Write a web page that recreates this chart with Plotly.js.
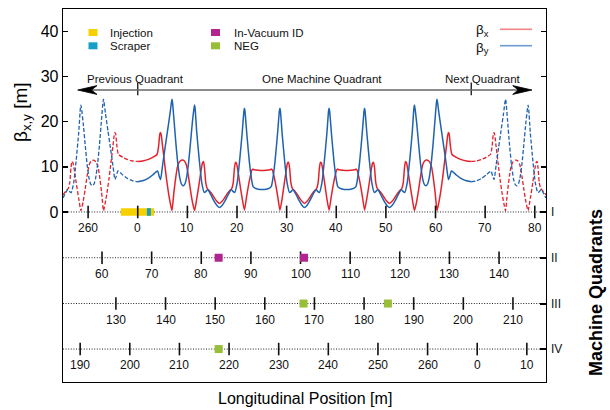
<!DOCTYPE html>
<html><head><meta charset="utf-8">
<script src="https://cdn.plot.ly/plotly-3.0.1.min.js"></script>
<style>html,body{margin:0;padding:0;background:#fff}#chart{width:610px;height:410px}</style>
</head><body><div id="chart"></div>
<script>
// ---- beta functions, one machine quadrant (solid) ----
const sxSolid = [0,1,2,3,3.9,4.2,4.45,4.6,4.75,5,5.5,5.8,6.2,6.55,6.9,7.3,7.7,8,8.4,8.9,9.4,9.8,10.2,10.6,11,11.45,11.9,12.4,12.8,13.05,13.25,13.45,13.7,14,14.5,15,15.5,16,16.47,16.94,17.44,17.94,18.44,18.94,19.24,19.49,19.69,19.89,20.14,20.54,21.04,21.5,21.9,22.3,22.7,23,23.15,23.5,24.3,25.07,25.84,26.64,26.99,27.14,27.44,27.84,28.24,28.65,29.1,29.55,29.95,30.2,30.4,30.6,30.85,31.15,31.65,32.15,32.65,33.15,33.6,
34.05,34.55,35.05,35.55,36.05,36.35,36.6,36.8,37,37.25,37.65,38.1,38.55,38.96,39.36,39.76,40.06,40.21,40.56,41.36,42.13,42.9,43.7,44.05,44.2,44.5,44.9,45.3,45.7,46.16,46.66,47.06,47.31,47.51,47.71,47.96,48.26,48.76,49.26,49.76,50.26,50.73,51.2,51.7,52.2,52.7,53.2,53.5,53.75,53.95,54.15,54.4,54.8,55.3,55.75,56.2,56.6,57,57.4,57.8,58.3,58.8,59.2,59.5,59.9,60.3,60.65,61,61.4,61.7,62.2,62.45,62.6,62.75,63,63.3,64.2,65.2,66.2,67.2];
const betaXSolid = [11.2,11.3,11.6,12.1,12.8,14.6,17.3,17.6,17.0,14.6,10.0,7.3,4.2,2.0,0.3,4.5,8.0,10.0,11.1,11.5,11.3,10.4,8.0,5.0,2.3,0.3,3.0,6.5,9.5,10.9,11.2,9.8,6.5,5.2,4.6,3.9,3.0,2.3,1.9,2.3,3.0,3.9,4.6,5.2,6.5,9.8,11.0,10.8,9.5,6.5,3.0,0.4,3.2,5.8,8.0,9.3,9.5,9.35,9.25,9.2,9.25,9.35,9.5,9.3,8.0,5.8,3.2,0.4,3.0,6.5,9.5,10.9,11.0,9.7,6.5,5.2,4.6,3.9,3.0,2.3,1.9,
2.3,3.0,3.9,4.6,5.2,6.5,9.7,11.0,10.9,9.5,6.5,3.0,0.4,3.2,5.8,8.0,9.3,9.5,9.35,9.25,9.2,9.25,9.35,9.5,9.3,8.0,5.8,3.2,0.4,3.0,6.5,9.5,10.8,11.0,9.8,6.5,5.2,4.6,3.9,3.0,2.3,1.9,2.3,3.0,3.9,4.6,5.2,6.5,9.8,11.2,10.9,9.5,6.5,3.0,0.3,2.3,5.0,8.0,10.4,11.3,11.5,11.1,10.0,8.0,4.5,0.3,2.0,4.2,7.3,10.0,14.6,17.0,17.6,17.3,14.6,12.8,12.1,11.6,11.3,11.2];

const sySolid = [0,1,2,3,3.6,4,4.3,4.6,5,5.5,6,6.5,6.8,6.9,7,7.3,7.7,8.1,8.5,8.8,9.15,9.5,9.8,10.2,10.6,11,11.35,11.45,11.55,11.9,12.4,12.9,13.4,13.7,14.1,14.5,15,15.5,16,16.47,16.94,17.44,17.94,18.44,18.84,19.24,19.54,20.04,20.54,21.04,21.4,21.5,21.6,22,22.5,23,23.25,23.6,24.3,25.07,25.84,26.54,26.89,27.14,27.64,28.14,28.54,28.65,28.75,29.1,29.6,30.1,30.6,30.9,31.25,31.7,32.2,32.7,33.15,33.6,
34.05,34.5,35,35.5,35.95,36.3,36.6,37.1,37.6,38.1,38.45,38.55,38.66,39.06,39.56,40.06,40.31,40.66,41.36,42.13,42.9,43.6,43.95,44.2,44.7,45.2,45.6,45.7,45.8,46.16,46.66,47.16,47.66,47.96,48.36,48.76,49.26,49.76,50.26,50.73,51.2,51.7,52.2,52.7,53.1,53.5,53.8,54.3,54.8,55.3,55.65,55.75,55.85,56.2,56.6,57,57.4,57.7,58.05,58.4,58.7,59.1,59.5,59.9,60.2,60.3,60.4,60.7,61.2,61.7,62.2,62.6,62.9,63.2,63.6,64.2,65.2,66.2,67.2];
const betaYSolid = [6.7,6.9,7.4,8.2,8.8,9.1,8.0,7.2,10.3,14.2,18.0,21.8,24.4,25.0,24.4,20.5,15.0,10.5,7.4,6.2,5.8,6.2,7.4,10.5,15.0,19.8,23.1,23.7,23.1,17.5,11.5,6.5,4.3,4.5,5.0,4.3,3.2,2.2,1.4,1.0,1.4,2.2,3.2,4.3,5.0,4.5,4.3,6.5,11.5,17.5,22.4,23.0,22.4,17.0,11.0,6.8,5.6,5.3,5.05,5.0,5.05,5.3,5.6,6.8,11.0,17.0,22.4,23.0,22.4,17.3,11.3,6.4,4.3,4.5,5.0,4.3,3.2,2.2,1.4,1.0,
1.4,2.2,3.2,4.3,5.0,4.5,4.3,6.4,11.3,17.3,22.4,23.0,22.4,17.0,11.0,6.8,5.6,5.3,5.05,5.0,5.05,5.3,5.6,6.8,11.0,17.0,22.4,23.0,22.4,17.5,11.5,6.5,4.3,4.5,5.0,4.3,3.2,2.2,1.4,1.0,1.4,2.2,3.2,4.3,5.0,4.5,4.3,6.5,11.5,17.5,23.1,23.7,23.1,19.8,15.0,10.5,7.4,6.2,5.8,6.2,7.4,10.5,15.0,20.5,24.4,25.0,24.4,21.8,18.0,14.2,10.3,7.2,8.0,9.1,8.8,8.2,7.4,6.9,6.7];

// ---- previous quadrant (dashed, left) ----
const sxPrev = [-15.06,-14.5,-14,-13.7,-13.45,-13.25,-13.05,-12.8,-12.4,-11.9,-11.45,-11,-10.6,-10.2,-9.8,-9.4,-8.9,-8.4,-8,-7.7,-7.3,-6.9,-6.55,-6.2,-5.8,-5.5,-5,-4.75,-4.6,-4.45,-4.2,-3.9,-3,-2,-1,0];
const betaXPrev = [3.8,4.6,5.2,6.5,9.8,11.2,10.9,9.5,6.5,3.0,0.3,2.3,5.0,8.0,10.4,11.3,11.5,11.1,10.0,8.0,4.5,0.3,2.0,4.2,7.3,10.0,14.6,17.0,17.6,17.3,14.6,12.8,12.1,11.6,11.3,11.2];
const syPrev = [-15.06,-14.5,-14.1,-13.7,-13.4,-12.9,-12.4,-11.9,-11.55,-11.45,-11.35,-11,-10.6,-10.2,-9.8,-9.5,-9.15,-8.8,-8.5,-8.1,-7.7,-7.3,-7,-6.9,-6.8,-6.5,-6,-5.5,-5,-4.6,-4.3,-4,-3.6,-3,-2,-1,0];
const betaYPrev = [3.1,4.3,5.0,4.5,4.3,6.5,11.5,17.5,23.1,23.7,23.1,19.8,15.0,10.5,7.4,6.2,5.8,6.2,7.4,10.5,15.0,20.5,24.4,25.0,24.4,21.8,18.0,14.2,10.3,7.2,8.0,9.1,8.8,8.2,7.4,6.9,6.7];

// ---- next quadrant (dashed, right) ----
const sxNext = [67.2,68.2,69.2,70.2,71.1,71.4,71.65,71.8,71.95,72.2,72.7,73,73.4,73.75,74.1,74.5,74.9,75.2,75.6,76.1,76.6,77,77.4,77.8,78.2,78.65,79.1,79.6,80,80.25,80.45,80.65,80.9,81.2,81.7,82.26];
const betaXNext = [11.2,11.3,11.6,12.1,12.8,14.6,17.3,17.6,17.0,14.6,10.0,7.3,4.2,2.0,0.3,4.5,8.0,10.0,11.1,11.5,11.3,10.4,8.0,5.0,2.3,0.3,3.0,6.5,9.5,10.9,11.2,9.8,6.5,5.2,4.6,3.8];
const syNext = [67.2,68.2,69.2,70.2,70.8,71.2,71.5,71.8,72.2,72.7,73.2,73.7,74,74.1,74.2,74.5,74.9,75.3,75.7,76,76.35,76.7,77,77.4,77.8,78.2,78.55,78.65,78.75,79.1,79.6,80.1,80.6,80.9,81.3,81.7,82.26];
const betaYNext = [6.7,6.9,7.4,8.2,8.8,9.1,8.0,7.2,10.3,14.2,18.0,21.8,24.4,25.0,24.4,20.5,15.0,10.5,7.4,6.2,5.8,6.2,7.4,10.5,15.0,19.8,23.1,23.7,23.1,17.5,11.5,6.5,4.3,4.5,5.0,4.3,3.1];

// ---- machine quadrant rows ----
const rowNames = ['I','II','III','IV'];
const quadOffset = [0, 67.2, 134.4, 201.6];
const wrapLength = 270;
const rowTicks = [
  [-10,0,10,20,30,40,50,60,70,80],
  [60,70,80,90,100,110,120,130,140],
  [130,140,150,160,170,180,190,200,210],
  [190,200,210,220,230,240,250,260,270,280]
];
// ---- elements ----
const injectionRange = [-3.4, 3.3];
const scraperRange = [1.85, 2.65];
const inVacS = [16.3, 33.5], inVacRow = [1, 1];
const negS = [33.4, 50.4, 16.3], negRow = [2, 2, 3];
const legendItems = ['Injection','Scraper','In-Vacuum ID','NEG'];

// ---- styling / layout ----
const RED = '#e3222b', BLUE = '#1f62b0';
const COL = {inj:'#f7d000', scr:'#159fc6', ivu:'#b1268e', neg:'#98bd36'};
const rowY = [0, -10.15, -20.3, -30.4];
const W = 610, H = 410, L = 63, R = 64, T = 9, B = 28;
const P = px => (px - L) / (W - L - R);
const Q = py => 1 - (py - T) / (H - T - B);
const FONT = 'Liberation Sans, Arial, sans-serif';

const traces = [];
const dashLine = (x, y, c) => ({x, y, type:'scatter', mode:'lines', line:{color:c, width:1.3, dash:'4px,2px', shape:'spline', smoothing:0.5}, hoverinfo:'skip', showlegend:false});
const solidLine = (x, y, c) => ({x, y, type:'scatter', mode:'lines', line:{color:c, width:1.5, shape:'spline', smoothing:0.5}, hoverinfo:'skip', showlegend:false});
traces.push(dashLine(sxPrev, betaXPrev, RED), dashLine(sxNext, betaXNext, RED));
traces.push(dashLine(syPrev, betaYPrev, BLUE), dashLine(syNext, betaYNext, BLUE));
traces.push(solidLine(sxSolid, betaXSolid, RED), solidLine(sySolid, betaYSolid, BLUE));

const annotations = [];
rowTicks.forEach((ticks, k) => {
  const xs = ticks.map(v => v - quadOffset[k]);
  traces.push({x: xs, y: xs.map(() => rowY[k]), type:'scatter', mode:'markers',
    marker:{symbol:'line-ns', size:9, line:{width:1.6, color:'#111'}}, hoverinfo:'skip', showlegend:false});
  ticks.forEach((v, i) => annotations.push({x: xs[i], y: rowY[k], xref:'x', yref:'y', yshift:-16,
    xanchor:'center', yanchor:'middle',
    text: String(((v % wrapLength) + wrapLength) % wrapLength), showarrow:false,
    font:{family:FONT, size:12, color:'#111'}}));
});
traces.push({x: inVacS, y: inVacRow.map(r => rowY[r]), type:'scatter', mode:'markers',
  marker:{symbol:'square', size:8, color:COL.ivu}, hoverinfo:'skip', showlegend:false});
traces.push({x: negS, y: negRow.map(r => rowY[r]), type:'scatter', mode:'markers',
  marker:{symbol:'square', size:8, color:COL.neg}, hoverinfo:'skip', showlegend:false});
// quadrant boundary ticks on the arrow
traces.push({x:[0, 67.2], y:[27.3, 27.3], type:'scatter', mode:'markers',
  marker:{symbol:'line-ns', size:9, line:{width:1.4, color:'#222'}}, hoverinfo:'skip', showlegend:false});
// dummy for right axis
traces.push({x:[null], y:[null], yaxis:'y2', type:'scatter', hoverinfo:'skip', showlegend:false});

const shapes = [];
shapes.push({type:'rect', xref:'x', yref:'y', x0:injectionRange[0], x1:injectionRange[1], y0:-0.85, y1:0.85, fillcolor:COL.inj, line:{width:0}, layer:'below'});
shapes.push({type:'rect', xref:'x', yref:'y', x0:scraperRange[0], x1:scraperRange[1], y0:-0.85, y1:0.85, fillcolor:COL.scr, line:{width:0}, layer:'below'});
rowY.forEach(y => shapes.push({type:'line', xref:'paper', yref:'y', x0:0, x1:1, y0:y, y1:y, line:{color:'#222', width:1, dash:'1px,1.6px'}, layer:'below'}));
// arrow
shapes.push({type:'line', xref:'paper', yref:'paper', x0:P(92), x1:P(518), y0:Q(90), y1:Q(90), line:{color:'#666', width:1.3}});
const head = pts => 'M' + pts.map(p => P(p[0]) + ',' + Q(p[1])).join(' L') + ' Z';
shapes.push({type:'path', xref:'paper', yref:'paper', path: head([[77.7,90],[97,85.6],[91.5,90],[97,94.4]]), fillcolor:'#000', line:{color:'#000', width:0.8}});
shapes.push({type:'path', xref:'paper', yref:'paper', path: head([[532,90],[512.7,85.6],[518.2,90],[512.7,94.4]]), fillcolor:'#000', line:{color:'#000', width:0.8}});
// legend squares
const sq = (cx, cy, c) => ({type:'rect', xref:'paper', yref:'paper', x0:P(cx-4.5), x1:P(cx+4.5), y0:Q(cy+3.5), y1:Q(cy-3.5), fillcolor:c, line:{width:0}});
shapes.push(sq(93, 32.5, COL.inj), sq(93, 45.8, COL.scr), sq(215.5, 32.5, COL.ivu), sq(215.5, 45.8, COL.neg));
// beta legend lines
shapes.push({type:'line', xref:'paper', yref:'paper', x0:P(500), x1:P(532), y0:Q(29.3), y1:Q(29.3), line:{color:'#ef8585', width:1.6}});
shapes.push({type:'line', xref:'paper', yref:'paper', x0:P(500), x1:P(532), y0:Q(45.7), y1:Q(45.7), line:{color:'#6f9bd3', width:1.6}});

const txt = (text, px, py, opts={}) => Object.assign({text, xref:'paper', yref:'paper', x:P(px), y:Q(py), showarrow:false,
  xanchor:'center', yanchor:'middle', font:{family:FONT, size:11.5, color:'#111'}}, opts);
annotations.push(txt(legendItems[0], 108, 32.5, {xanchor:'left'}));
annotations.push(txt(legendItems[1], 108, 45.8, {xanchor:'left'}));
annotations.push(txt(legendItems[2], 232, 32.5, {xanchor:'left'}));
annotations.push(txt(legendItems[3], 232, 45.8, {xanchor:'left'}));
annotations.push(txt('Previous Quadrant', 135.7, 79.3));
annotations.push(txt('One Machine Quadrant', 322, 79.3));
annotations.push(txt('Next Quadrant', 482.5, 79.3));
annotations.push(txt('β<sub>x</sub><br>β<sub>y</sub>', 491, 39.5, {xanchor:'right', align:'right', font:{family:FONT, size:13.5, color:'#111'}}));
annotations.push(txt('β<sub>x,y</sub> [m]', 22, 112, {textangle:-90, font:{family:FONT, size:19, color:'#000'}}));
annotations.push(txt('<b>Machine Quadrants</b>', 596, 293, {textangle:-90, font:{family:FONT, size:18, color:'#000'}}));
annotations.push(txt('Longitudinal Position [m]', 304.5, 398, {font:{family:FONT, size:16, color:'#000'}}));

const layout = {
  width:W, height:H, margin:{l:L, r:R, t:T, b:B}, paper_bgcolor:'#fff', plot_bgcolor:'#fff',
  font:{family:FONT, color:'#000'}, showlegend:false,
  xaxis:{range:[-15.06, 82.26], showticklabels:false, ticks:'', showgrid:false, zeroline:false,
    showline:true, mirror:true, linecolor:'#000', linewidth:1.3, fixedrange:true},
  yaxis:{range:[-37.7, 45], tickvals:[0,10,20,30,40], ticks:'inside', ticklen:5, tickwidth:1.3, tickcolor:'#000',
    showgrid:false, zeroline:false, showline:true, mirror:'ticks', linecolor:'#000', linewidth:1.3,
    tickfont:{family:FONT, size:16, color:'#000'}},
  yaxis2:{range:[-37.7, 45], overlaying:'y', side:'right', tickvals:rowY, ticktext:rowNames, ticks:'inside',
    ticklen:6, tickwidth:2, tickcolor:'#000', showgrid:false, zeroline:false, showline:false,
    ticklabelstandoff:4, tickfont:{family:FONT, size:12, color:'#111'}},
  shapes, annotations
};
Plotly.newPlot('chart', traces, layout, {staticPlot:true, displayModeBar:false});
</script></body></html>
